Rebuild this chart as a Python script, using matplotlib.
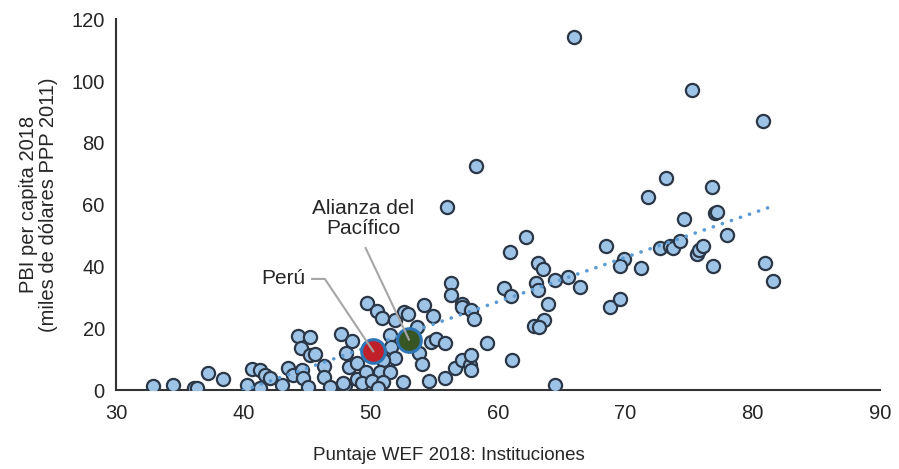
import numpy as np
import matplotlib.pyplot as plt

plt.rcParams['font.family'] = ['Liberation Sans', 'DejaVu Sans']

# puntaje WEF 2018 (instituciones) y PBI per capita 2018 (miles US$ PPP 2011)
wef = [32.9, 34.5, 36.1, 36.4, 37.2, 38.4, 40.3, 40.7, 41.3, 41.7, 41.3, 42.1, 43.0, 43.5, 43.9,
       44.3, 45.2, 44.5, 45.2, 45.6, 44.6, 44.7, 45.1, 46.3, 46.3, 46.8,
       47.7, 48.5, 48.1, 48.3, 48.9, 48.0, 47.8, 48.9, 49.6, 49.3, 49.7,
       50.5, 50.9, 51.9, 51.5, 51.6, 51.9, 51.0, 50.7, 51.5, 50.1, 51.0, 50.6, 52.5,
       52.6, 52.9, 53.6, 53.8, 54.0, 54.2, 54.9, 54.7, 55.1, 55.8, 54.6, 55.8,
       56.6, 57.2, 57.8, 57.9, 57.9, 59.1, 56.3, 56.3, 57.2, 57.2, 57.9, 58.1,
       56.0, 58.3, 62.2, 60.9, 63.1, 63.5, 60.5, 61.0, 63.0, 63.1, 64.5, 65.5,
       66.4, 63.9, 63.6, 62.8, 63.2, 61.1, 64.5, 68.5, 69.9, 69.6, 71.2, 68.8,
       69.6, 71.8, 73.2, 72.7, 73.5, 73.7, 74.3, 74.6, 80.8, 76.8, 77.0, 77.2,
       78.0, 75.6, 75.8, 76.1, 76.9, 81.0, 81.6, 75.2, 66.0]
pbi = [1.5, 1.8, 0.6, 0.6, 5.5, 3.6, 1.6, 7.0, 6.6, 4.9, 0.8, 3.9, 1.7, 7.2, 4.9,
       17.5, 17.3, 13.8, 11.3, 11.7, 6.5, 3.8, 1.1, 7.8, 4.3, 0.9,
       18.1, 15.9, 11.9, 7.5, 8.7, 1.6, 2.2, 3.5, 5.9, 2.2, 28.2,
       25.6, 23.4, 22.8, 17.9, 14.0, 10.5, 9.9, 5.9, 5.9, 2.9, 2.5, 0.7, 2.7,
       25.3, 24.8, 20.3, 12.0, 8.6, 27.6, 23.9, 15.6, 16.5, 15.3, 2.9, 4.0,
       7.3, 9.7, 8.1, 6.6, 11.3, 15.3, 34.6, 30.8, 28.0, 27.0, 25.8, 22.9,
       59.4, 72.5, 49.4, 44.8, 41.2, 39.2, 32.9, 30.6, 34.7, 32.4, 35.6, 36.5,
       33.3, 28.0, 22.7, 20.8, 20.3, 9.7, 1.6, 46.7, 42.5, 40.1, 39.4, 27.0,
       29.4, 62.4, 68.8, 46.1, 46.7, 45.9, 48.3, 55.3, 87.2, 65.8, 57.4, 57.6,
       50.1, 44.0, 45.3, 46.6, 40.2, 41.0, 35.4, 97.1, 114.2]

peru = (50.2, 12.6)
alianza = (53.0, 16.4)

fig = plt.figure(figsize=(8.99, 4.69), dpi=100)
ax = fig.add_axes([0.129, 0.168, 0.850, 0.791])

ax.scatter(wef, pbi, s=90, facecolor='#9dc3e6', edgecolor='#2b3646', linewidth=1.6, zorder=3)

# tendencia lineal
b, a = np.polyfit(wef, pbi, 1)
xt = np.linspace(min(wef), max(wef), 200)
ax.plot(xt, a + b * xt, color='#5b9bd5', linewidth=2.6, linestyle=(0, (0.05, 2.6)),
        dash_capstyle='round', zorder=4)

ax.scatter(*peru, s=290, facecolor='#c0202a', edgecolor='#2e75b6', linewidth=2.2, zorder=5)
ax.scatter(*alianza, s=290, facecolor='#375623', edgecolor='#2e75b6', linewidth=2.2, zorder=5)

# etiquetas con lineas guia
gris = '#a6a6a6'
ax.plot([45.4, 46.4, peru[0]], [36.0, 36.0, peru[1]], color=gris, linewidth=1.5, zorder=6)
ax.text(44.9, 36.2, 'Perú', ha='right', va='center', fontsize=15, color='#262626')
ax.plot([49.6, alianza[0]], [46.0, alianza[1]], color=gris, linewidth=1.5, zorder=6)
ax.text(49.4, 55.5, 'Alianza del\nPacífico', ha='center', va='center', fontsize=15,
        color='#262626', linespacing=1.1)

ax.set_xlim(30, 90)
ax.set_ylim(0, 120)
ax.set_xticks(range(30, 91, 10))
ax.set_yticks(range(0, 121, 20))
ax.tick_params(length=0, labelsize=14.5, colors='#262626', pad=8)
ax.tick_params(axis='x', pad=10)
for s in ['top', 'right']:
    ax.spines[s].set_visible(False)
for s in ['left', 'bottom']:
    ax.spines[s].set_color('#333333')
    ax.spines[s].set_linewidth(1.5)

ax.set_xlabel('Puntaje WEF 2018: Instituciones', fontsize=13.5, color='#262626')
ax.xaxis.set_label_coords(0.435, -0.152)
ax.set_ylabel('PBI per capita 2018\n(miles de dólares PPP 2011)', fontsize=14.5,
              color='#262626', labelpad=10, linespacing=1.05)

fig.savefig('out.png', dpi=100)
